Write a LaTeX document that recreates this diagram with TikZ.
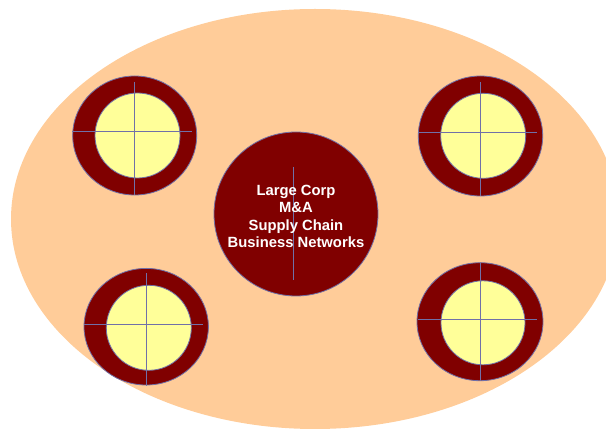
\documentclass[tikz,border=0pt]{standalone}
\usepackage{fontspec}
\setmainfont{Liberation Sans}
\usetikzlibrary{shapes.geometric}
\definecolor{peach}{RGB}{255,204,153}
\definecolor{darkmaroon}{RGB}{128,0,0}
\definecolor{paleyellow}{RGB}{255,255,153}
\definecolor{lineblue}{RGB}{112,112,168}
\begin{document}
\begin{tikzpicture}[x=1pt,y=-1pt,
  ring/.style={ellipse, draw=lineblue, line width=0.8pt, fill=darkmaroon, inner sep=0pt},
  hole/.style={circle, draw=lineblue, line width=0.8pt, fill=paleyellow, inner sep=0pt, minimum size=85pt},
  cross/.style={draw=lineblue, line width=1pt}]
\useasboundingbox (0,0) rectangle (606,430);
\begin{scope}
\clip (0,0) rectangle (606,430);
\fill[peach] (315,219) ellipse [x radius=304, y radius=210];
\end{scope}
% upper left
\node[ring, minimum width=124pt, minimum height=119pt] (ulo) at (134.7,135.5) {};
\node[hole] (uli) at (137.5,135.5) {};
\draw[cross] (72,132) -- (192,132);
\draw[cross] (134.7,81.7) -- (134.7,195);
% upper right
\node[ring, minimum width=124.4pt, minimum height=120pt] (uro) at (480.5,136) {};
\node[hole] (uri) at (483.2,135.8) {};
\draw[cross] (418,132.3) -- (537,132.3);
\draw[cross] (480.3,82.3) -- (480.3,196);
% lower left
\node[ring, minimum width=124.4pt, minimum height=116.6pt] (llo) at (146.2,326.7) {};
\node[hole] (lli) at (148.8,327.8) {};
\draw[cross] (84,325) -- (203.3,325);
\draw[cross] (146.3,273.3) -- (146.3,385.7);
% lower right
\node[ring, minimum width=126pt, minimum height=118pt] (lro) at (480,321.7) {};
\node[hole, minimum size=84pt] (lri) at (483,322.8) {};
\draw[cross] (418,319.3) -- (536.7,319.3);
\draw[cross] (480.3,263) -- (480.3,380.7);
% centre
\node[circle, draw=lineblue, line width=0.8pt, fill=darkmaroon, minimum size=164pt, inner sep=0pt] (hub) at (296,214) {};
\draw[cross] (293,166.7) -- (293,280);
\node[text=white, font=\fontsize{14.8}{17.4}\selectfont\bfseries, align=center, inner sep=0pt] (label) at (296,216.5) {Large Corp\\M\&A\\Supply Chain\\Business Networks};
\end{tikzpicture}
\end{document}
